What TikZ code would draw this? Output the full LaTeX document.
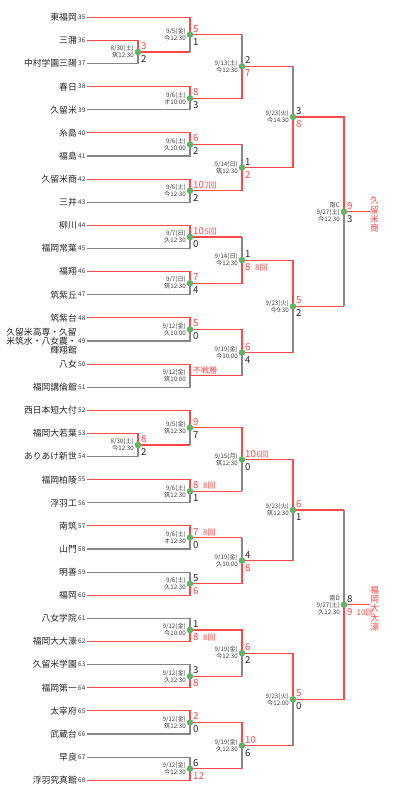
\documentclass[tikz,border=0pt]{standalone}
\usepackage{fontspec}
\setmainfont{Noto Sans CJK JP}
\usetikzlibrary{calc}
\definecolor{wred}{RGB}{255,72,72}
\definecolor{lgray}{RGB}{135,135,135}
\definecolor{dgreen}{RGB}{100,178,100}
\pgfdeclarelayer{bg}\pgfdeclarelayer{gl}\pgfdeclarelayer{rl}\pgfsetlayers{bg,gl,rl,main}
\tikzset{
 dot/.style={circle, fill=dgreen, inner sep=0pt, minimum size=6.6pt},
 win/.style={draw=wred, line width=1.1pt},
 lose/.style={draw=lgray, line width=1.1pt},
 tname/.style={anchor=east, inner sep=0pt, align=right, font=\fontsize{8.8}{9.3}\selectfont, text=black!85},
 tnum/.style={anchor=west, inner sep=0pt, font=\fontsize{6.4}{7}\selectfont, text=black!80},
 dte/.style={anchor=east, inner sep=0pt, align=right, font=\fontsize{6.2}{7}\selectfont, text=black!75},
 sc/.style={anchor=base west, inner sep=0pt, font=\fontsize{9.6}{11}\selectfont, text=black!85},
 inn/.style={anchor=base west, inner sep=0pt, font=\fontsize{7.8}{9}\selectfont, text=wred},
 fin/.style={inner sep=0pt, align=center, font=\fontsize{8.7}{9.4}\selectfont, text=wred},
}
\newcommand\R[1]{\textcolor{wred}{#1}}
\newcommand\tm[3]{%
  \node[tname] (n#1) at (77,#3) {#2};
  \node[tnum] (k#1) at (78,#3) {#1};
  \coordinate (t#1) at (86.5,#3);}
\newcommand\mt[6]{%
  \node[dot] (#1) at (#2,#3) {};
  \node[dte] (#1d) at (#2-4,#3) {#4};
  \node[sc] (#1a) at (#2+3,#3-2.5) {#5};
  \node[sc] (#1b) at (#2+3,#3+10.5) {#6};}
\newcommand\G[1]{\begin{pgfonlayer}{gl}\draw[lose] #1;\end{pgfonlayer}}
\newcommand\W[1]{\begin{pgfonlayer}{rl}\draw[win] #1;\end{pgfonlayer}}
\newcommand\MW[2]{\W{(#1.center) -| (#2.center)}}
\newcommand\ML[2]{\W{(#1.center) -- (#1.center -| #2.center)}\G{(#1.center -| #2.center) -- (#2.center)}}
\begin{document}
\begin{tikzpicture}[x=1pt,y=-1pt]
\begin{pgfonlayer}{bg}
\fill[white] (0,0) rectangle (404,800);
\end{pgfonlayer}
\useasboundingbox (0,0) rectangle (404,800);
% teams
\tm{35}{東福岡}{17.3}
\tm{36}{三潴}{40.4}
\tm{37}{中村学園三陽}{63.5}
\tm{38}{春日}{86.7}
\tm{39}{久留米}{109.8}
\tm{40}{糸島}{132.9}
\tm{41}{福島}{156.0}
\tm{42}{久留米商}{179.1}
\tm{43}{三井}{202.3}
\tm{44}{柳川}{225.4}
\tm{45}{福岡常葉}{248.5}
\tm{46}{福翔}{271.6}
\tm{47}{筑紫丘}{294.7}
\tm{48}{筑紫台}{317.9}
\tm{49}{久留米高専・久留\\米筑水・八女農・\\輝翔館}{341.0}
\tm{50}{八女}{364.1}
\tm{51}{福岡講倫館}{387.2}
\tm{52}{西日本短大付}{410.3}
\tm{53}{福岡大若葉}{433.5}
\tm{54}{ありあけ新世}{456.6}
\tm{55}{福岡柏陵}{479.7}
\tm{56}{浮羽工}{502.8}
\tm{57}{南筑}{525.9}
\tm{58}{山門}{549.0}
\tm{59}{明善}{572.2}
\tm{60}{福岡}{595.3}
\tm{61}{八女学院}{618.4}
\tm{62}{福岡大大濠}{641.5}
\tm{63}{久留米学園}{664.6}
\tm{64}{福岡第一}{687.8}
\tm{65}{太宰府}{710.9}
\tm{66}{武蔵台}{734.0}
\tm{67}{早良}{757.1}
\tm{68}{浮羽究真館}{780.2}
% matches, upper half
\mt{p1}{138}{52.0}{8/30(土)\\筑12:30}{\R{3}}{2}
\mt{m1}{190}{34.6}{9/5(金)\\今12:30}{\R{5}}{1}
\mt{m2}{190}{98.2}{9/6(土)\\オ10:00}{\R{8}}{3}
\mt{r2a}{242}{66.4}{9/13(土)\\今12:30}{2}{\R{7}}
\mt{m3}{190}{144.4}{9/6(土)\\久10:00}{\R{6}}{2}
\mt{m4}{190}{190.7}{9/6(土)\\今12:30}{\R{10}}{2}
\node[inn] (m4i) at ($(m4a.base east)+(0.3,0)$) {7回};
\mt{r2b}{242}{167.6}{9/14(日)\\筑12:30}{1}{\R{2}}
\mt{r3a}{293}{117.0}{9/23(火)\\今14:30}{3}{\R{8}}
\mt{m5}{190}{237.0}{9/7(日)\\久12:30}{\R{10}}{0}
\node[inn] (m5i) at ($(m5a.base east)+(0.3,0)$) {5回};
\mt{m6}{190}{283.2}{9/7(日)\\筑12:30}{\R{7}}{4}
\mt{r2c}{242}{260.1}{9/14(日)\\今12:30}{1}{\R{8}}
\node[inn] (r2ci) at (255,270.6) {8回};
\mt{m7}{190}{329.4}{9/12(金)\\久10:00}{\R{5}}{0}
\coordinate (m8) at (190,375.7);
\node[dte] (m8d) at (186,375.7) {9/12(金)\\筑10:00};
\node[inn, font=\fontsize{8}{9}\selectfont] (m8a) at (193,373.2) {不戦勝};
\mt{r2d}{242}{352.6}{9/19(金)\\今10:00}{\R{6}}{4}
\mt{r3b}{293}{306.3}{9/23(火)\\今9:30}{\R{5}}{2}
\mt{sf1}{344}{211.7}{南C\\9/27(土)\\今12:30}{\R{9}}{3}
% matches, lower half
\mt{p2}{138}{445.0}{8/30(土)\\今12:30}{\R{8}}{2}
\mt{m9}{190}{427.7}{9/5(金)\\筑12:30}{\R{9}}{7}
\mt{m10}{190}{491.3}{9/6(土)\\筑12:30}{\R{8}}{1}
\node[inn] (m10i) at (203,488.8) {8回};
\mt{r2e}{242}{459.5}{9/15(月)\\筑12:30}{\R{10}}{0}
\node[inn] (r2ei) at ($(r2ea.base east)+(0.3,0)$) {6回};
\mt{m11}{190}{537.5}{9/6(土)\\オ12:30}{\R{7}}{0}
\node[inn] (m11i) at (203,535.0) {8回};
\mt{m12}{190}{583.7}{9/6(土)\\久12:30}{5}{\R{6}}
\mt{r2f}{242}{560.6}{9/19(金)\\久10:00}{4}{\R{8}}
\mt{r3c}{293}{510.0}{9/23(火)\\筑12:30}{\R{6}}{1}
\mt{m13}{190}{630.0}{9/12(金)\\今10:00}{1}{\R{8}}
\node[inn] (m13i) at (203,640.5) {8回};
\mt{m14}{190}{676.2}{9/12(金)\\久12:30}{3}{\R{8}}
\mt{r2g}{242}{653.1}{9/19(金)\\今12:30}{\R{6}}{2}
\mt{m15}{190}{722.4}{9/12(金)\\筑12:30}{\R{2}}{0}
\mt{m16}{190}{768.7}{9/12(金)\\今12:30}{6}{\R{12}}
\mt{r2h}{242}{745.6}{9/19(金)\\久12:30}{\R{10}}{6}
\mt{r3d}{293}{699.3}{9/23(火)\\今12:00}{\R{5}}{0}
\mt{sf2}{344}{604.7}{南D\\9/27(土)\\久12:30}{8}{\R{9}}
\node[inn] (sf2i) at (356.5,615.2) {10回};
% winners
\coordinate (f1) at (370,211.7);
\coordinate (f2) at (370,604.7);
\node[fin] (w1) at (374.5,214.5) {久\\留\\米\\商};
\node[fin] (w2) at (374.8,608.5) {福\\岡\\大\\大\\濠};
% connectors upper half
\W{(t36) -| (p1.center)} \G{(t37) -| (p1.center)}
\W{(t35) -| (m1.center)} \ML{p1}{m1}
\W{(t38) -| (m2.center)} \G{(t39) -| (m2.center)}
\ML{m1}{r2a} \MW{m2}{r2a}
\W{(t40) -| (m3.center)} \G{(t41) -| (m3.center)}
\W{(t42) -| (m4.center)} \G{(t43) -| (m4.center)}
\ML{m3}{r2b} \MW{m4}{r2b}
\ML{r2a}{r3a} \MW{r2b}{r3a}
\W{(t44) -| (m5.center)} \G{(t45) -| (m5.center)}
\W{(t46) -| (m6.center)} \G{(t47) -| (m6.center)}
\ML{m5}{r2c} \MW{m6}{r2c}
\W{(t48) -| (m7.center)} \G{(t49) -| (m7.center)}
\W{(t50) -| (m8.center)} \G{(t51) -| (m8.center)}
\MW{m7}{r2d} \ML{m8}{r2d}
\MW{r2c}{r3b} \ML{r2d}{r3b}
\MW{r3a}{sf1} \ML{r3b}{sf1}
\W{(sf1.center) -- (f1)}
% connectors lower half
\W{(t53) -| (p2.center)} \G{(t54) -| (p2.center)}
\W{(t52) -| (m9.center)} \ML{p2}{m9}
\W{(t55) -| (m10.center)} \G{(t56) -| (m10.center)}
\MW{m9}{r2e} \ML{m10}{r2e}
\W{(t57) -| (m11.center)} \G{(t58) -| (m11.center)}
\G{(t59) -| (m12.center)} \W{(t60) -| (m12.center)}
\ML{m11}{r2f} \MW{m12}{r2f}
\MW{r2e}{r3c} \ML{r2f}{r3c}
\G{(t61) -| (m13.center)} \W{(t62) -| (m13.center)}
\G{(t63) -| (m14.center)} \W{(t64) -| (m14.center)}
\MW{m13}{r2g} \ML{m14}{r2g}
\W{(t65) -| (m15.center)} \G{(t66) -| (m15.center)}
\G{(t67) -| (m16.center)} \W{(t68) -| (m16.center)}
\MW{m15}{r2h} \ML{m16}{r2h}
\MW{r2g}{r3d} \ML{r2h}{r3d}
\ML{r3c}{sf2} \MW{r3d}{sf2}
\W{(sf2.center) -- (f2)}
\end{tikzpicture}
\end{document}
